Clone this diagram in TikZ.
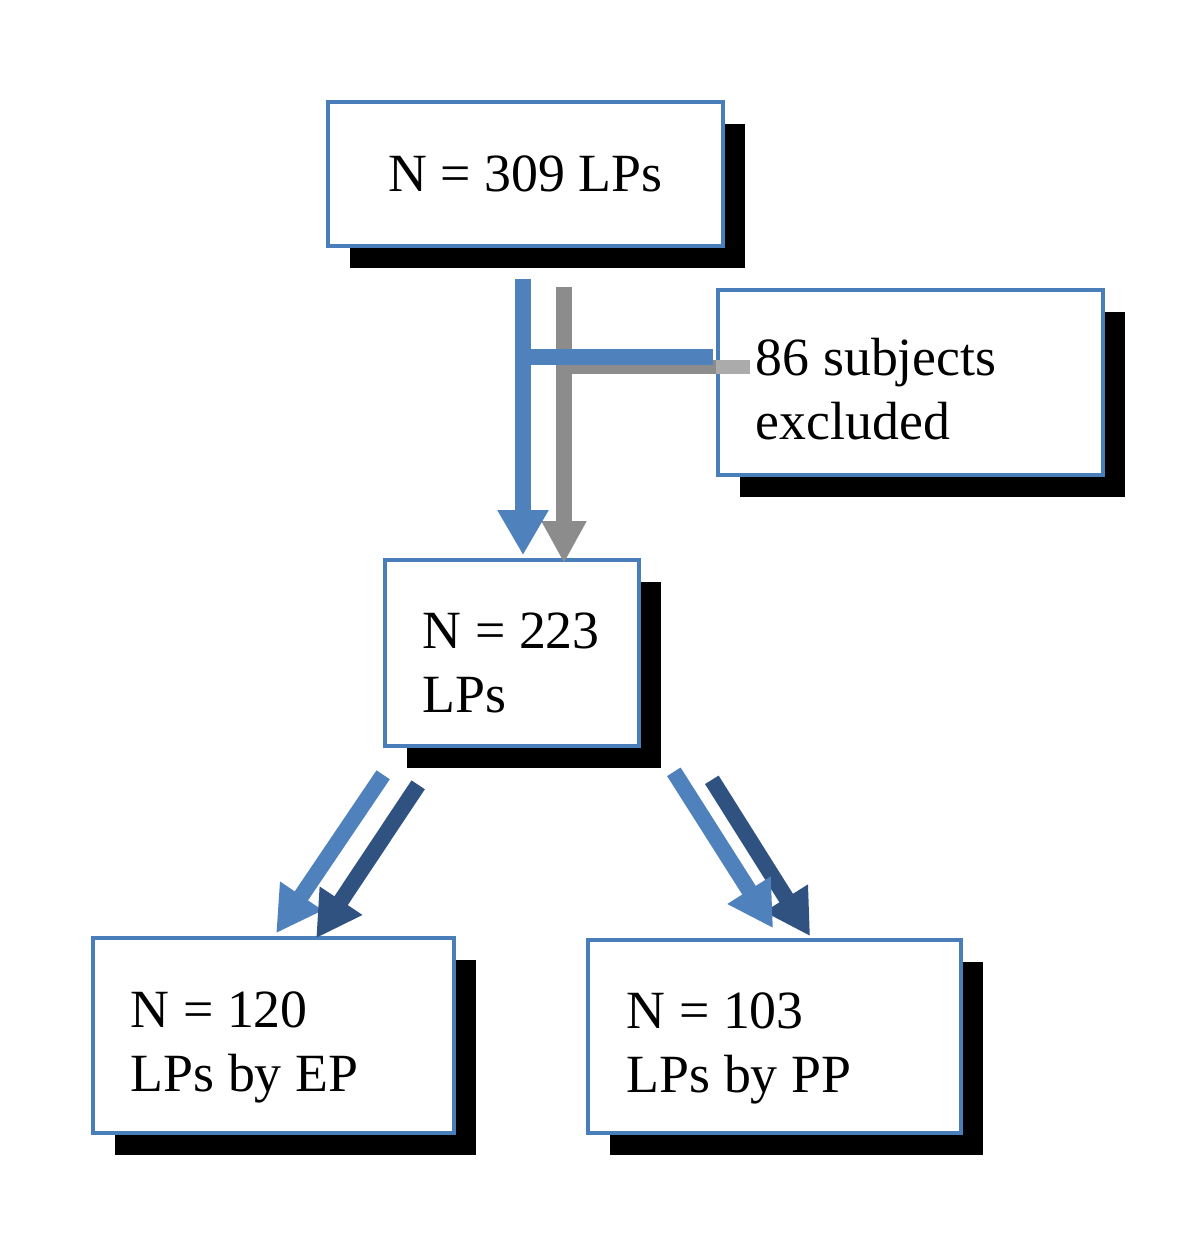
\documentclass[tikz,border=0pt]{standalone}
\usepackage{fontspec}
\setmainfont{Liberation Serif}
\usetikzlibrary{arrows.meta,shadows,calc}
\definecolor{boxblue}{HTML}{4A7EBB}
\definecolor{arrowblue}{HTML}{4F81BD}
\definecolor{darkblue}{HTML}{2F5280}
\definecolor{shadegray}{HTML}{8C8C8C}
\definecolor{lightshade}{HTML}{ABABAB}
\begin{document}
\begin{tikzpicture}[x=0.01cm,y=-0.01cm,
    box/.style={draw=boxblue,line width=1pt,fill=white,inner sep=0pt,
      drop shadow={shadow xshift=0.22cm,shadow yshift=-0.22cm,fill=black,opacity=1},
      font=\fontsize{15.3}{18.3}\selectfont},
    bar/.style={line width=0.16cm},
    tip/.style={-{Triangle[length=0.45cm,width=0.48cm]}},
    graytip/.style={-{Triangle[length=0.42cm,width=0.42cm]}}]
  \useasboundingbox (0,0) rectangle (1181,1243);
  \node[box,minimum width=3.95cm,minimum height=1.44cm] (N309) at (525.5,174) {N = 309 LPs};
  \node[box,minimum width=3.85cm,minimum height=1.85cm,text width=3.09cm,align=flush left] (excl) at (910.5,382.5) {\rule{0pt}{0.51cm}\mbox{86 subjects}\\excluded};
  \node[box,minimum width=2.54cm,minimum height=1.86cm,text width=1.78cm,align=flush left] (N223) at (512,653) {\rule{0pt}{0.56cm}\mbox{N = 223}\\LPs};
  \node[box,minimum width=3.61cm,minimum height=1.95cm,text width=2.85cm,align=flush left] (N120) at (273.5,1035.5) {\rule{0pt}{0.59cm}\mbox{N = 120}\\\mbox{LPs by EP}};
  \node[box,minimum width=3.73cm,minimum height=1.93cm,text width=2.95cm,align=flush left] (N103) at (774.5,1036.5) {\rule{0pt}{0.59cm}\mbox{N = 103}\\\mbox{LPs by PP}};
  \coordinate (J) at ($(N309.south)+(-2.5,109)$);
  \coordinate (G) at ($(J)+(41,10)$);
  \draw[bar,shadegray,graytip] ($(N309.south)+(38.5,39)$) -- ($(N223.north)+(52,5)$);
  \draw[line width=0.14cm,shadegray] (G) -- (G -| excl.west);
  \draw[line width=0.14cm,lightshade] (G -| excl.west) -- ++(34,0);
  \draw[bar,arrowblue,tip] ($(N309.south)+(-2.5,31)$) -- ($(N223.north)+(11,-3)$);
  \draw[bar,arrowblue] (J) -- ($(J -| excl.west)+(-3,0)$);
  \draw[bar,arrowblue,tip] ($(N223.south west)+(0,27)$) -- ($(N120.north west)+(185,-3)$);
  \draw[bar,darkblue,tip] ($(N223.south west)+(35,37)$) -- ($(N120.north west)+(225,2)$);
  \draw[bar,darkblue,tip] ($(N223.south east)+(71,32)$) -- ($(N103.north west)+(224,-2)$);
  \draw[bar,arrowblue,tip] ($(N223.south east)+(33,24)$) -- ($(N103.north west)+(187,-10)$);
\end{tikzpicture}
\end{document}
